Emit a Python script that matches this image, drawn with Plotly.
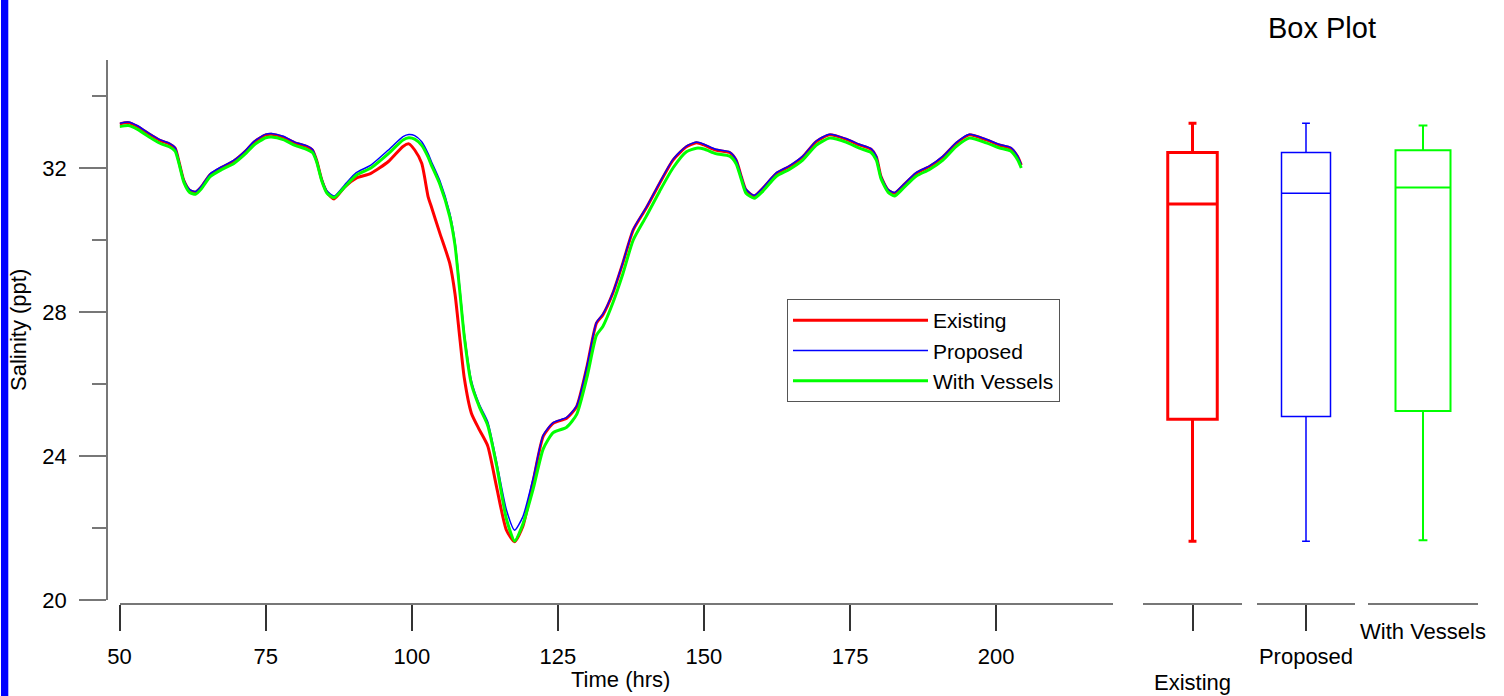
import plotly.graph_objects as go

W, H = 1504, 696
FONT = "Liberation Sans, Arial, sans-serif"

# ---------------- data ----------------
time_hrs = [50, 51.5, 53, 55, 57, 58.5, 59.5, 60.2, 61, 62, 63, 64, 65.5, 67.5, 69.5, 71.5, 73, 75, 76, 78,
            80, 82, 83, 83.7, 84.6, 85.5, 86.7, 88.5, 90.5, 93, 96, 98.5, 99.5, 100.5, 101.7, 102.8, 103.3,
            104.8, 106.5, 107.4, 108.2, 109, 110.2, 111.6, 113, 114.5, 116.2, 117.6, 119, 120.8, 122.5,
            124.2, 126.5, 128.2, 130, 131.6, 132.7, 134.4, 136.1, 137.9, 140.1, 142.4, 144.7, 147, 148.7,
            150, 152, 154.4, 155.5, 156.4, 157.2, 158.6, 160.1, 162.4, 164.6, 166.9, 169.2, 171.5, 174.3,
            176.6, 178.6, 179.5, 180.3, 181.5, 182.6, 184, 186.3, 188.6, 190.9, 193.2, 195.4, 198.3, 200.5,
            202.5, 203.7, 204.3]

existing = [33.22, 33.26, 33.16, 32.95, 32.76, 32.67, 32.55, 32.15, 31.65, 31.38, 31.33, 31.48, 31.82, 32.02,
            32.19, 32.46, 32.72, 32.92, 32.94, 32.86, 32.70, 32.60, 32.50, 32.22, 31.67, 31.32, 31.14, 31.47,
            31.72, 31.85, 32.18, 32.60, 32.67, 32.50, 32.13, 31.20, 30.95, 30.19, 29.35, 28.50, 27.31, 26.15,
            25.19, 24.72, 24.28, 23.15, 21.94, 21.62, 22.04, 23.33, 24.55, 24.91, 25.05, 25.37, 26.50, 27.69,
            27.92, 28.52, 29.35, 30.28, 30.88, 31.57, 32.22, 32.59, 32.70, 32.64, 32.50, 32.43, 32.22, 31.76,
            31.39, 31.22, 31.44, 31.85, 32.04, 32.31, 32.73, 32.92, 32.80, 32.64, 32.52, 32.31, 31.76, 31.39,
            31.30, 31.50, 31.85, 32.04, 32.31, 32.69, 32.92, 32.78, 32.64, 32.55, 32.31, 32.08]

proposed = [33.24, 33.28, 33.18, 32.97, 32.78, 32.69, 32.57, 32.17, 31.67, 31.40, 31.35, 31.50, 31.84, 32.04,
            32.21, 32.48, 32.74, 32.94, 32.96, 32.88, 32.72, 32.62, 32.52, 32.24, 31.70, 31.36, 31.22, 31.53,
            31.87, 32.08, 32.50, 32.87, 32.93, 32.90, 32.73, 32.40, 32.20, 31.65, 30.75, 29.95, 28.70, 27.40,
            26.10, 25.42, 24.95, 23.85, 22.50, 21.94, 22.31, 23.40, 24.58, 24.93, 25.07, 25.39, 26.52, 27.71,
            27.94, 28.54, 29.37, 30.30, 30.90, 31.59, 32.24, 32.61, 32.72, 32.66, 32.52, 32.45, 32.24, 31.78,
            31.41, 31.24, 31.46, 31.87, 32.06, 32.33, 32.75, 32.94, 32.82, 32.66, 32.54, 32.33, 31.78, 31.41,
            31.32, 31.52, 31.87, 32.06, 32.33, 32.71, 32.94, 32.80, 32.66, 32.57, 32.33, 32.10]

with_vessels = [33.15, 33.18, 33.08, 32.87, 32.68, 32.59, 32.47, 32.10, 31.60, 31.32, 31.27, 31.42, 31.76,
                31.96, 32.12, 32.39, 32.64, 32.84, 32.86, 32.79, 32.63, 32.52, 32.43, 32.18, 31.64, 31.30,
                31.18, 31.47, 31.80, 32.00, 32.40, 32.78, 32.84, 32.80, 32.63, 32.30, 32.10, 31.55, 30.65,
                29.85, 28.60, 27.30, 26.00, 25.35, 24.85, 23.75, 22.25, 21.64, 22.10, 23.10, 24.20, 24.65,
                24.80, 25.15, 26.20, 27.35, 27.60, 28.25, 29.05, 30.00, 30.65, 31.35, 32.00, 32.45, 32.55,
                32.53, 32.40, 32.33, 32.12, 31.68, 31.30, 31.16, 31.36, 31.77, 31.96, 32.22, 32.63, 32.83,
                32.72, 32.55, 32.43, 32.22, 31.70, 31.33, 31.22, 31.42, 31.77, 31.96, 32.22, 32.60, 32.83,
                32.70, 32.56, 32.47, 32.22, 32.00]

series_names = ["Existing", "Proposed", "With Vessels"]

box_lower = [21.63, 21.63, 21.66]
box_q1 = [25.02, 25.10, 25.25]
box_median = [31.00, 31.30, 31.46]
box_q3 = [32.43, 32.43, 32.49]
box_upper = [33.24, 33.24, 33.18]

x_ticks = [50, 75, 100, 125, 150, 175, 200]
y_ticks = [20, 24, 28, 32]
y_minor_ticks = [22, 26, 30, 34]

# ---------------- styles ----------------
colors = ["#ff0000", "#0000ff", "#00ff00"]
lw = [3, 1.5, 3]
box_lw = [3, 1.5, 2]


def fx(p):
    return p / W


def fy(p):
    return 1 - p / H


fig = go.Figure()
series = [existing, proposed, with_vessels]
for i, name in enumerate(series_names):
    fig.add_trace(go.Scatter(
        x=time_hrs, y=series[i], mode="lines", name=name, legendgroup=name,
        line=dict(color=colors[i], width=lw[i], shape="spline", smoothing=0.6),
        xaxis="x", yaxis="y"))

for i, name in enumerate(series_names):
    fig.add_trace(go.Box(
        x=[0], q1=[box_q1[i]], median=[box_median[i]], q3=[box_q3[i]],
        lowerfence=[box_lower[i]], upperfence=[box_upper[i]],
        name=name, showlegend=False, boxpoints=False, width=0.5, whiskerwidth=0.16,
        line=dict(color=colors[i], width=box_lw[i]), fillcolor="rgba(0,0,0,0)",
        xaxis="x%d" % (i + 2), yaxis="y2"))

axis_line = dict(showline=True, linecolor="#777", linewidth=1.5, showgrid=False, zeroline=False,
                 automargin=False)

layout = dict(
    width=W, height=H, margin=dict(l=0, r=0, t=0, b=0, pad=0, autoexpand=False),
    paper_bgcolor="white", plot_bgcolor="white",
    font=dict(family=FONT, size=22, color="black"),
    showlegend=True,
    legend=dict(x=fx(787), y=fy(299), xanchor="left", yanchor="top",
                bordercolor="#555", borderwidth=1, bgcolor="white",
                font=dict(size=21), itemwidth=135, tracegroupgap=6, traceorder="normal"),
    xaxis=dict(domain=[fx(119.6), fx(1113)], range=[50, 220], anchor="free", position=fy(604),
               ticks="outside", ticklen=26, tickcolor="#333", tickwidth=1.5,
               tickmode="array", tickvals=x_ticks, ticklabelstandoff=7, **axis_line),
    yaxis=dict(domain=[fy(600), fy(60)], range=[20, 35], anchor="free", position=fx(107),
               ticks="outside", ticklen=27, tickcolor="#777", tickwidth=1.5,
               tickmode="array", tickvals=y_ticks, ticklabelstandoff=8,
               minor=dict(ticks="outside", ticklen=14, tickcolor="#777", tickwidth=1.5,
                          tickmode="array", tickvals=y_minor_ticks),
               **axis_line),
    yaxis2=dict(domain=[fy(600), fy(60)], range=[20, 35], anchor="x2", visible=False,
                automargin=False),
)

box_segments = [(1143, 1242), (1257, 1355), (1368, 1478)]
box_standoff = [33, 7, 8]
for i, (a, b) in enumerate(box_segments):
    layout["xaxis%d" % (i + 2)] = dict(
        domain=[fx(a), fx(b)], range=[-0.5, 0.5], anchor="free", position=fy(604),
        tickmode="array", tickvals=[0], ticktext=[series_names[i]],
        ticks="outside" if i < 2 else "", ticklen=26 if i < 2 else 0,
        tickcolor="#333", tickwidth=1.5, ticklabelstandoff=box_standoff[i], **axis_line)

fig.update_layout(**layout)

fig.add_shape(type="rect", xref="paper", yref="paper", x0=fx(1), x1=fx(8.3), y0=0, y1=1,
              fillcolor="#0000ff", line=dict(width=0), layer="above")

fig.add_annotation(text="Salinity (ppt)", xref="paper", yref="paper", x=fx(18), y=fy(330),
                   textangle=-90, showarrow=False, font=dict(size=22),
                   xanchor="center", yanchor="middle")
fig.add_annotation(text="Time (hrs)", xref="paper", yref="paper", x=fx(620), y=fy(679),
                   showarrow=False, font=dict(size=22), xanchor="center", yanchor="middle")
fig.add_annotation(text="Box Plot", xref="paper", yref="paper", x=fx(1322), y=fy(28),
                   showarrow=False, font=dict(size=29),
                   xanchor="center", yanchor="middle")

fig.write_html("out.html", config={"displayModeBar": False})
